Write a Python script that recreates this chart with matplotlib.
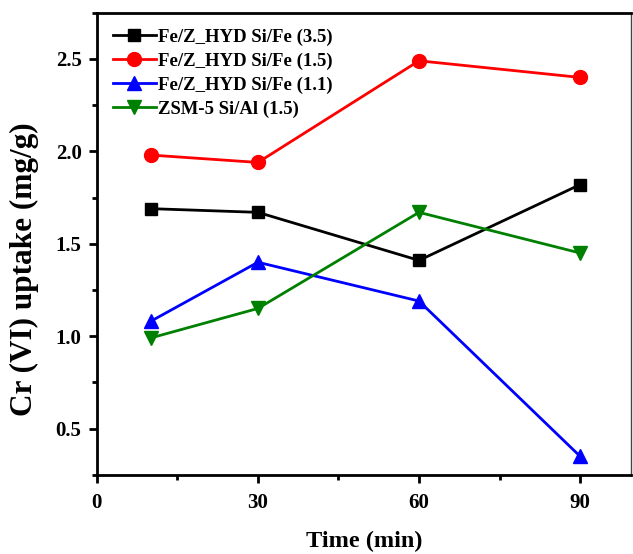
import numpy as np
import matplotlib
matplotlib.use('Agg')
import matplotlib.pyplot as plt
from matplotlib.ticker import MultipleLocator, FormatStrFormatter

plt.rcParams['font.family'] = 'Liberation Serif'
plt.rcParams['font.weight'] = 'bold'

# uptake data
time_min = [10, 30, 60, 90]
hyd_35 = [1.69, 1.67, 1.41, 1.82]
hyd_15 = [1.98, 1.94, 2.49, 2.40]
hyd_11 = [1.08, 1.40, 1.19, 0.35]
zsm5 = [0.99, 1.15, 1.67, 1.45]

labels = ['Fe/Z_HYD Si/Fe (3.5)', 'Fe/Z_HYD Si/Fe (1.5)',
          'Fe/Z_HYD Si/Fe (1.1)', 'ZSM-5 Si/Al (1.5)']
colors = ['black', 'red', 'blue', 'green']
markers = ['s', 'o', '^', 'v']
msizes = [9, 10, 10.5, 10.5]

fig = plt.figure(figsize=(6.33, 5.54), dpi=100)
ax = fig.add_axes([0.153, 0.143, 0.844, 0.834])

for y, lab, c, m, ms in zip([hyd_35, hyd_15, hyd_11, zsm5], labels, colors, markers, msizes):
    ax.plot(time_min, y, color=c, marker=m, markersize=ms, linewidth=2, label=lab)

ax.set_xlim(0, 99.5)
ax.set_ylim(0.25, 2.75)
ax.xaxis.set_major_locator(MultipleLocator(30))
ax.xaxis.set_minor_locator(MultipleLocator(15))
ax.yaxis.set_major_locator(MultipleLocator(0.5))
ax.yaxis.set_minor_locator(MultipleLocator(0.25))
ax.yaxis.set_major_formatter(FormatStrFormatter('%.1f'))

ax.tick_params(which='major', direction='out', length=6, width=2, labelsize=15)
ax.tick_params(axis='x', which='major', pad=7)
ax.tick_params(axis='y', which='major', pad=5)
ax.tick_params(which='minor', direction='out', length=3.5, width=2)
for lab in ax.get_xticklabels() + ax.get_yticklabels():
    lab.set_fontweight('bold')

for side in ['left', 'bottom', 'top']:
    ax.spines[side].set_linewidth(2)
ax.spines['right'].set_linewidth(1)
ax.spines['right'].set_color('#444444')

ax.set_xlabel('Time (min)', fontsize=17.5, fontweight='bold', labelpad=13)
ax.set_ylabel('Cr (VI) uptake (mg/g)', fontsize=22.5, fontweight='bold')
ax.yaxis.set_label_coords(-0.108, 0.444)

ax.legend(loc='upper left', frameon=False, handlelength=2.3,
          handletextpad=0.1, labelspacing=0.35, borderaxespad=0.45,
          prop={'weight': 'bold', 'size': 13.5})

plt.savefig('out.png', dpi=100)
